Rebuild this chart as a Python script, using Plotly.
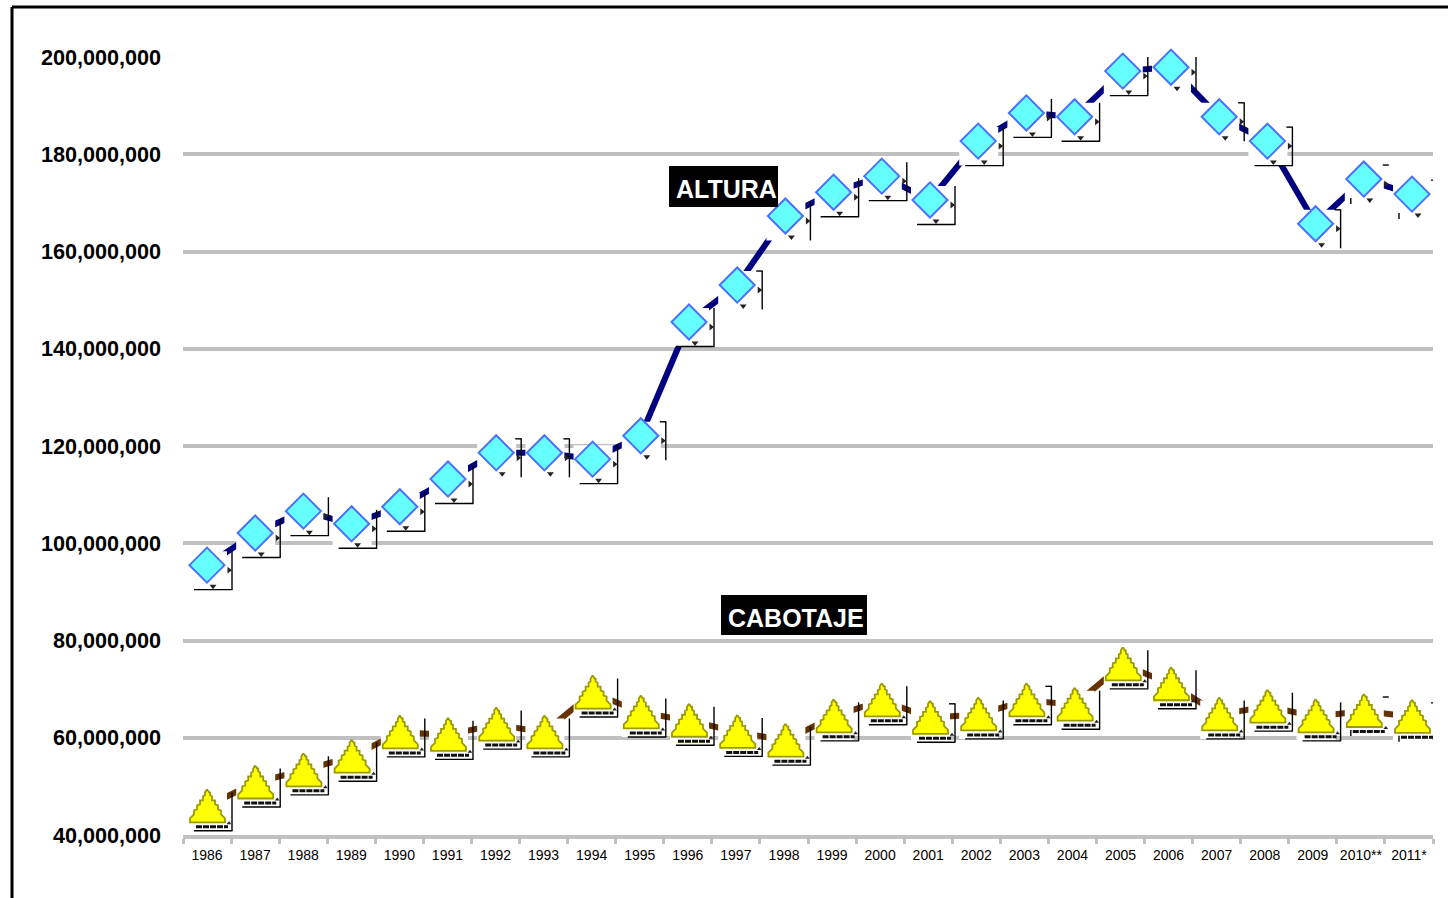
import plotly.graph_objects as go

years = ["1986","1987","1988","1989","1990","1991","1992","1993","1994","1995","1996","1997","1998",
         "1999","2000","2001","2002","2003","2004","2005","2006","2007","2008","2009","2010**","2011*"]
altura = [95.5,102.1,106.6,104.0,107.5,113.2,118.6,118.6,117.3,122.1,145.5,153.1,167.3,
          172.2,175.5,170.6,182.7,188.5,187.7,197.1,197.9,187.7,182.7,165.7,174.9,171.8]
cabotaje = [45.9,50.8,53.3,56.1,61.1,60.6,62.7,61.1,69.3,65.2,63.5,61.2,59.4,
            64.4,67.7,64.1,64.8,67.7,66.8,75.1,71.0,64.8,66.4,64.4,65.5,64.3]
# label-frame pieces shown for each point: b = bottom rule, h = top hook, v = right rule, t = stray ticks
altura_frames = ["vb","vb","vb","vb","vb","vb","vh","vh","vb","vh","vb","vh","v",
                 "vb","vb","vb","vb","vb","vb","vb","vh","vh","vhb","vh","t","t"]
cabotaje_frames = ["vb","vb","vb","vb","vb","vb","vb","vb","vb","vb","vb","vb","vb",
                   "vb","vb","vhb","vb","vhb","vb","vb","vb","vb","vb","vb","t","t"]
y_ticks = [40,60,80,100,120,140,160,180,200]

W, H = 1448, 898
L, R, T, B = 183, 1433, 57, 835
PXX = (R - L) / len(years)
PXY = (B - T) / (max(y_ticks) - min(y_ticks))
DRIFT = 48.2 / PXX  # marks sit on a very slightly wider pitch than the tick labels
FIRST = (207 - L) / PXX - 0.5
fx = lambda i, dx: FIRST + i * DRIFT + dx / PXX
fy = lambda v, dy: v - dy / PXY
idx = list(range(len(years)))
xs = [fx(i, 0) for i in idx]


def segs(vals, pieces):
    """pieces: function (i,v) -> list of ((dx0,dy0),(dx1,dy1)) in pixel offsets from the point."""
    X, Y = [], []
    for i, v in enumerate(vals):
        for a, b in pieces(i, v):
            X += [fx(i, a[0]), fx(i, b[0]), None]
            Y += [fy(v, a[1]), fy(v, b[1]), None]
    return X, Y


def frame_pieces(frames):
    def f(i, v):
        s = frames[i]
        out = []
        if "v" in s:
            out.append(((25, -14), (25, 24.5)))
        if "b" in s:
            out.append(((-13, 24.5), (25.5, 24.5)))
        if "h" in s:
            out.append(((19, -14), (25.5, -14)))
        if "t" in s:
            out.append(((19, -14), (25, -14)))
            out.append(((-13, 19), (-13, 25)))
        return out
    return f


def add_series(fig, vals, frames, color):
    fig.add_trace(go.Scatter(x=xs, y=vals, mode="lines", line=dict(color=color, width=6), hoverinfo="skip"))
    mx, my = segs(vals, lambda i, v: [((-19, 5.25), (20, 5.25))])
    fig.add_trace(go.Scatter(x=mx, y=my, mode="lines", line=dict(color="white", width=38.5), hoverinfo="skip"))
    bx, by = segs(vals, frame_pieces(frames))
    fig.add_trace(go.Scatter(x=bx, y=by, mode="lines", line=dict(color="black", width=1.4), hoverinfo="skip"))


fig = go.Figure()
add_series(fig, altura, altura_frames, "#000080")
add_series(fig, cabotaje, cabotaje_frames, "#663300")

# Altura symbols
fig.add_trace(go.Scatter(x=xs, y=altura, mode="markers", hoverinfo="skip",
                         marker=dict(symbol="diamond", size=27, color="#66FFFF", line=dict(color="#4D70FF", width=2))))
fig.add_trace(go.Scatter(x=[fx(i, 6) for i in idx], y=[fy(v, 21) for v in altura], mode="markers", hoverinfo="skip",
                         marker=dict(symbol="triangle-down", size=6, color="#222222")))
fig.add_trace(go.Scatter(x=[fx(i, 22) for i in idx], y=[fy(v, 5) for v in altura], mode="markers", hoverinfo="skip",
                         marker=dict(symbol="triangle-right", size=6, color="#222222")))

# Cabotaje symbols: stepped triangle outline around each point
outline = [(0, -17), (2, -14), (3, -14), (3, -11), (5, -10), (5, -6), (8, -6), (8, -2), (11, -1), (11, 3),
           (14, 4), (14, 8), (18, 12), (18, 16), (-17, 16), (-17, 12), (-13, 8), (-13, 4), (-10, 3), (-10, -1),
           (-7, -2), (-7, -6), (-4, -6), (-4, -10), (-2, -11), (-2, -14), (0, -17)]
px, py = [], []
for i, v in enumerate(cabotaje):
    px += [fx(i, o[0]) for o in outline] + [None]
    py += [fy(v, o[1]) for o in outline] + [None]
fig.add_trace(go.Scatter(x=px, y=py, mode="lines", fill="toself", fillcolor="#FFFF00",
                         line=dict(color="#9A9A00", width=1.8), hoverinfo="skip"))
sx, sy = segs(cabotaje, lambda i, v: [((-11, 20.5), (21, 20.5))])
fig.add_trace(go.Scatter(x=sx, y=sy, mode="lines", hoverinfo="skip",
                         line=dict(color="#111111", width=3, dash="6px,1px")))
fig.add_trace(go.Scatter(x=[fx(i, 22) for i in idx], y=[fy(v, 17) for v in cabotaje], mode="markers", hoverinfo="skip",
                         marker=dict(symbol="triangle-up", size=4, color="#222222")))

for tr in fig.data:
    tr.cliponaxis = False
    tr.showlegend = False
    tr.connectgaps = False

px_x = lambda p: (p - L) / (R - L)
px_y = lambda p: (B - p) / (B - T)
for label, x0, x1, y0, y1, tx, ty in [("ALTURA", 669, 778, 166, 207, 675, 189), ("CABOTAJE", 721, 867, 595, 635, 727, 618)]:
    fig.add_shape(type="rect", xref="paper", yref="paper", x0=px_x(x0), x1=px_x(x1), y0=px_y(y0), y1=px_y(y1),
                  fillcolor="black", line=dict(width=0), layer="above")
    fig.add_annotation(xref="paper", yref="paper", x=px_x(tx), y=px_y(ty), xanchor="left", yanchor="middle",
                       text=label, showarrow=False, borderpad=0,
                       font=dict(family="Liberation Sans", size=25, color="white", weight="bold"))

GRID = "#C0C0C0"
fig.update_layout(
    width=W, height=H, margin=dict(l=L, r=W - R, t=T, b=H - B, pad=0, autoexpand=False),
    paper_bgcolor="white", plot_bgcolor="white", showlegend=False,
    font=dict(family="Liberation Sans", color="black"),
    xaxis=dict(range=[-0.5, len(years) - 0.5], tickmode="array", tickvals=idx, ticktext=years, ticks="",
               showgrid=False, zeroline=False, showline=True, linecolor=GRID, linewidth=4, tickcolor=GRID,
               tickfont=dict(size=14), ticklabelstandoff=4,
               minor=dict(tickmode="linear", tick0=-0.5, dtick=1, ticks="outside", ticklen=5, tickwidth=3,
                          tickcolor=GRID, showgrid=False)),
    yaxis=dict(range=[min(y_ticks), max(y_ticks)], tickmode="array", tickvals=y_ticks,
               ticktext=[f"{t * 1000000:,}" for t in y_ticks], ticks="", showline=False, zeroline=False,
               showgrid=True, gridcolor=GRID, gridwidth=4,
               tickfont=dict(size=21.6, family="Liberation Sans", weight="bold"), ticklabelstandoff=21),
)
fig.add_shape(type="line", xref="paper", yref="paper", x0=px_x(12), x1=px_x(W + 10), y0=px_y(7), y1=px_y(7),
              line=dict(color="black", width=3))
fig.add_shape(type="line", xref="paper", yref="paper", x0=px_x(12), x1=px_x(12), y0=px_y(7), y1=px_y(H + 10),
              line=dict(color="black", width=3))
fig.write_html("out.html", config={"displayModeBar": False}, post_script="document.body.style.margin='0';")
